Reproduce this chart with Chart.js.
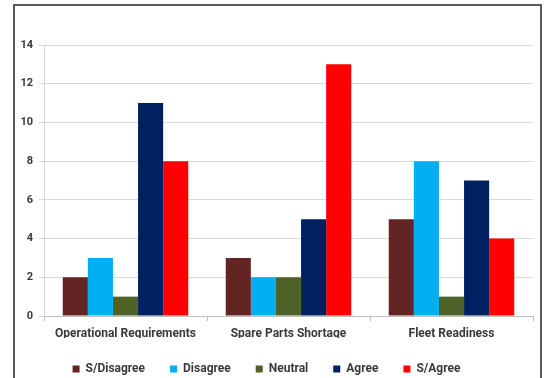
<!DOCTYPE html>
<html>
<head>
<meta charset="utf-8">
<script src="https://cdn.jsdelivr.net/npm/chart.js@4/dist/chart.umd.min.js"></script>
<style>
  html, body { margin: 0; padding: 0; background: #fff; overflow: hidden; }
  #wrap { position: relative; width: 547px; height: 378px; }
  #frame {
    position: absolute; left: 13px; top: 4px; width: 525px; height: 400px;
    border: 2px solid #595959; pointer-events: none;
  }
</style>
</head>
<body>
<div id="wrap">
  <canvas id="chart" width="547" height="378"></canvas>
  <div id="frame"></div>
</div>
<script>
// Survey responses per topic
const categories = ['Operational Requirements', 'Spare Parts Shortage', 'Fleet Readiness'];
const sDisagree = [2, 3, 5];
const disagree  = [3, 2, 8];
const neutral   = [1, 2, 1];
const agree     = [11, 5, 7];
const sAgree    = [8, 13, 4];
const yTicks    = [0, 2, 4, 6, 8, 10, 12, 14];

const FONT = 'Roboto, "Open Sans", sans-serif';
const TEXT = '#3a3a3a';

function series(label, data, color) {
    return {
        label: label,
        data: data,
        backgroundColor: color,
        borderWidth: 0,
        categoryPercentage: 0.77,
        barPercentage: 1.0
    };
}

new Chart(document.getElementById('chart'), {
    type: 'bar',
    data: {
        labels: categories,
        datasets: [
            series('S/Disagree', sDisagree, '#632523'),
            series('Disagree', disagree, '#00B0F0'),
            series('Neutral', neutral, '#4F6228'),
            series('Agree', agree, '#002060'),
            series('S/Agree', sAgree, '#FF0000')
        ]
    },
    options: {
        responsive: false,
        animation: false,
        layout: { padding: { top: 45, right: 14, left: 0, bottom: -7 } },
        scales: {
            x: {
                grid: {
                    display: true,
                    drawOnChartArea: false,
                    offset: true,
                    tickLength: 5,
                    color: '#bfbfbf'
                },
                border: { color: '#bfbfbf', width: 1 },
                ticks: {
                    color: TEXT,
                    padding: 6,
                    maxRotation: 0,
                    font: { family: FONT, size: 12, weight: 'bold' }
                },
                afterFit: scale => { scale.height = 22; }
            },
            y: {
                min: 0,
                max: 14,
                afterBuildTicks: scale => { scale.ticks = yTicks.map(v => ({ value: v })); },
                grid: { color: '#d9d9d9', tickLength: 5 },
                border: { color: '#d9d9d9' },
                ticks: {
                    color: TEXT,
                    padding: 6,
                    font: { family: FONT, size: 11, weight: 'bold' }
                },
                afterFit: scale => { scale.width = 44; }
            }
        },
        plugins: {
            legend: {
                position: 'bottom',
                labels: {
                    boxWidth: 7,
                    boxHeight: 7,
                    padding: 25,
                    color: TEXT,
                    font: { family: FONT, size: 12, weight: 'bold' }
                }
            },
            tooltip: { enabled: false }
        }
    }
});
</script>
</body>
</html>
